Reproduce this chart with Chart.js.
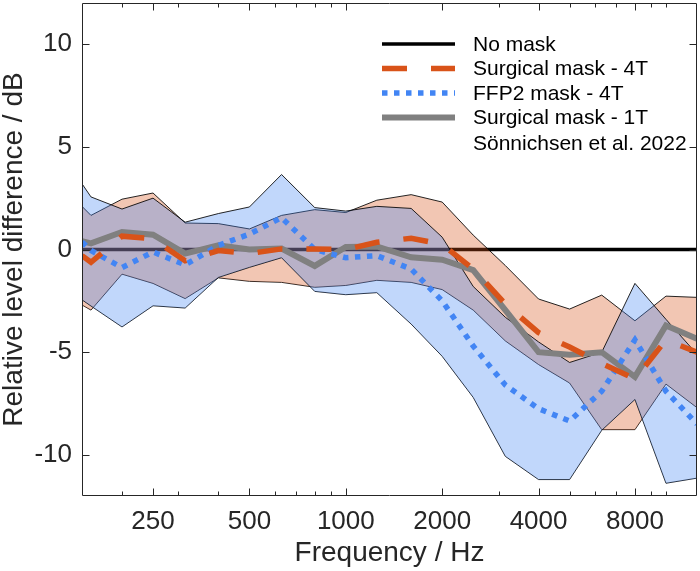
<!DOCTYPE html>
<html>
<head>
<meta charset="utf-8">
<script src="https://cdn.jsdelivr.net/npm/chart.js@4.4.1/dist/chart.umd.min.js"></script>
<style>
  html, body { margin: 0; padding: 0; background: #fff; }
  #wrap { width: 700px; height: 571px; }
</style>
</head>
<body>
<div id="wrap"><canvas id="chart" width="700" height="571"></canvas></div>
<script>
// third-octave band centres (Hz), first point sits on the left axis limit
const freqs = [150, 160, 200, 250, 315, 400, 500, 630, 800, 1000, 1250, 1600, 2000, 2500, 3150, 4000, 5000, 6300, 8000, 10000, 12500];

// mean level differences (dB)
const noMask = [0, 0, 0, 0, 0, 0, 0, 0, 0, 0, 0, 0, 0, 0, 0, 0, 0, 0, 0, 0, 0];
const surg4T = [-0.3, -0.62, 0.65, 0.52, -0.55, -0.05, -0.2, 0.03, 0.02, 0.0, 0.35, 0.55, 0.25, -0.95, -2.65, -4.05, -4.75, -5.55, -6.3, -4.4, -5.0];
const ffp2 = [0.36, -0.05, -0.88, -0.12, -0.75, 0.2, 0.75, 1.55, 0.0, -0.4, -0.3, -0.95, -2.5, -4.7, -6.6, -7.75, -8.35, -6.9, -4.4, -6.9, -8.5];
const surg1T = [0.4, 0.3, 0.85, 0.72, -0.2, 0.2, 0.0, 0.05, -0.8, 0.12, 0.15, -0.38, -0.5, -1.0, -2.95, -5.0, -5.12, -5.0, -6.2, -3.7, -4.35];

// spread bands (dB)
const surg4THi = [2.1, 1.66, 2.45, 2.75, 1.29, 1.26, 1.0, 1.66, 1.94, 1.8, 2.4, 2.67, 2.31, 0.7, -0.78, -2.41, -2.9, -2.22, -3.47, -2.27, -2.33];
const surg4TLo = [-2.7, -2.95, -1.2, -1.65, -2.39, -1.38, -1.55, -1.6, -1.84, -1.75, -1.5, -1.6, -1.95, -2.95, -4.45, -5.6, -6.5, -8.77, -8.77, -6.55, -7.7];
const ffp2Hi = [3.2, 2.56, 1.97, 2.5, 1.33, 1.75, 2.07, 3.65, 2.04, 1.87, 2.1, 2.0, 0.6, -1.8, -3.3, -4.5, -5.5, -5.0, -1.65, -3.4, -5.1];
const ffp2Lo = [-2.45, -2.75, -3.77, -2.74, -2.85, -1.36, -0.87, -0.4, -2.04, -2.2, -2.1, -3.63, -5.2, -7.2, -10.07, -11.2, -11.2, -8.8, -7.3, -11.38, -11.13];

const xTicks = [250, 500, 1000, 2000, 4000, 8000];
const xMinorTicks = [200, 300, 400, 600, 700, 800, 900, 3000, 5000, 6000, 7000, 9000, 10000];
const yTicks = [-10, -5, 0, 5, 10];

const FONT = '"Liberation Sans", Arial, Helvetica, sans-serif';
const AXIS = '#262626';
const ORANGE = 'rgb(217,83,25)';
const BLUE = 'rgb(66,133,244)';
const GRAY = 'rgb(128,128,128)';

function pts(arr) {
    return freqs.map((f, i) => ({ x: f, y: arr[i] }));
}

function edge(label, arr, order, fill, fillColor) {
    return {
        label: label,
        data: pts(arr),
        borderColor: 'rgba(0,0,0,0.85)',
        borderWidth: 1,
        backgroundColor: fillColor || 'transparent',
        fill: fill === undefined ? false : fill,
        pointRadius: 0,
        tension: 0,
        order: order
    };
}

const datasets = [
    { label: 'No mask', data: pts(noMask), borderColor: '#000', borderWidth: 3.5, pointRadius: 0, fill: false, order: 10 },
    edge('4T low', surg4TLo, 9),
    edge('4T high', surg4THi, 8, 1, 'rgba(217,83,25,0.33)'),
    edge('FFP2 low', ffp2Lo, 7),
    edge('FFP2 high', ffp2Hi, 6, 3, 'rgba(66,133,244,0.33)'),
    { label: 'Surgical mask - 1T', data: pts(surg1T), borderColor: GRAY, borderWidth: 6, pointRadius: 0, fill: false, order: 3 },
    { label: 'FFP2 mask - 4T', data: pts(ffp2), borderColor: BLUE, borderWidth: 5.5, borderDash: [5.5, 6.5], pointRadius: 0, fill: false, order: 2 },
    { label: 'Surgical mask - 4T', data: pts(surg4T), borderColor: ORANGE, borderWidth: 5.5, borderDash: [25, 24], pointRadius: 0, fill: false, order: 1 }
];

// box with inward ticks on all four sides
const axesBox = {
    id: 'axesBox',
    afterDraw(chart) {
        const { ctx, chartArea: a, scales } = chart;
        const L = Math.round(a.left) + 0.5, R = Math.round(a.right) - 0.5;
        const T = Math.round(a.top) + 0.5, B = Math.round(a.bottom) - 0.5;
        ctx.save();
        ctx.strokeStyle = AXIS;
        ctx.lineWidth = 1;
        ctx.beginPath();
        ctx.rect(L, T, R - L, B - T);
        const tx = (v, len) => {
            const px = Math.round(scales.x.getPixelForValue(v)) + 0.5;
            ctx.moveTo(px, B); ctx.lineTo(px, B - len);
            ctx.moveTo(px, T); ctx.lineTo(px, T + len);
        };
        xTicks.forEach(v => tx(v, 7));
        xMinorTicks.forEach(v => tx(v, 4));
        yTicks.forEach(v => {
            const py = Math.round(scales.y.getPixelForValue(v)) + 0.5;
            ctx.moveTo(L, py); ctx.lineTo(L + 7, py);
            ctx.moveTo(R, py); ctx.lineTo(R - 7, py);
        });
        ctx.stroke();
        ctx.restore();
    }
};

// legend drawn inside the axes, top right
const insideLegend = {
    id: 'insideLegend',
    afterDraw(chart, args, opts) {
        const ctx = chart.ctx;
        ctx.save();
        ctx.font = opts.fontSize + 'px ' + FONT;
        ctx.textBaseline = 'middle';
        ctx.fillStyle = '#000';
        opts.entries.forEach((e, i) => {
            const y = opts.rows[i];
            if (e.ds !== null) {
                const ds = chart.data.datasets[e.ds];
                ctx.beginPath();
                ctx.strokeStyle = ds.borderColor;
                ctx.lineWidth = ds.borderWidth;
                ctx.setLineDash(ds.borderDash || []);
                ctx.moveTo(opts.lineX0, y);
                ctx.lineTo(opts.lineX1, y);
                ctx.stroke();
                ctx.setLineDash([]);
            }
            ctx.fillText(e.ds !== null ? chart.data.datasets[e.ds].label : e.text, opts.textX, y + 1);
        });
        ctx.restore();
    }
};

const ctx = document.getElementById('chart').getContext('2d');
new Chart(ctx, {
    type: 'line',
    data: { datasets: datasets },
    options: {
        responsive: false,
        animation: false,
        devicePixelRatio: 1,
        layout: { padding: { top: 3, right: 3, left: 0, bottom: 0 } },
        plugins: {
            legend: { display: false },
            tooltip: { enabled: false },
            insideLegend: {
                fontSize: 21,
                lineX0: 382, lineX1: 455, textX: 473,
                rows: [44, 68.5, 93, 117.5, 143],
                entries: [
                    { ds: 0 },
                    { ds: 7 },
                    { ds: 6 },
                    { ds: 5 },
                    { ds: null, text: 'Sönnichsen et al. 2022' }
                ]
            }
        },
        scales: {
            x: {
                type: 'logarithmic',
                min: 150,
                max: 12500,
                afterBuildTicks: s => { s.ticks = xTicks.map(v => ({ value: v })); },
                afterFit: s => { s.height = 75; s.paddingLeft = 0; s.paddingRight = 0; },
                ticks: {
                    callback: v => String(v),
                    font: { family: FONT, size: 26 },
                    color: AXIS,
                    padding: 10,
                    maxRotation: 0,
                    autoSkip: false
                },
                grid: { display: false, drawTicks: false },
                border: { display: false },
                title: {
                    display: true,
                    text: 'Frequency / Hz',
                    font: { family: FONT, size: 28, lineHeight: 1 },
                    color: AXIS,
                    padding: { top: 0, bottom: 4 }
                }
            },
            y: {
                min: -12,
                max: 12,
                afterBuildTicks: s => { s.ticks = yTicks.map(v => ({ value: v })); },
                afterFit: s => { s.width = 82; s.paddingTop = 0; s.paddingBottom = 0; },
                ticks: {
                    font: { family: FONT, size: 26 },
                    color: AXIS,
                    padding: 10
                },
                grid: { display: false, drawTicks: false },
                border: { display: false },
                title: {
                    display: true,
                    text: 'Relative level difference / dB',
                    font: { family: FONT, size: 28, lineHeight: 1 },
                    color: AXIS,
                    padding: { top: 0, bottom: 0 }
                }
            }
        }
    },
    plugins: [axesBox, insideLegend]
});
</script>
</body>
</html>
